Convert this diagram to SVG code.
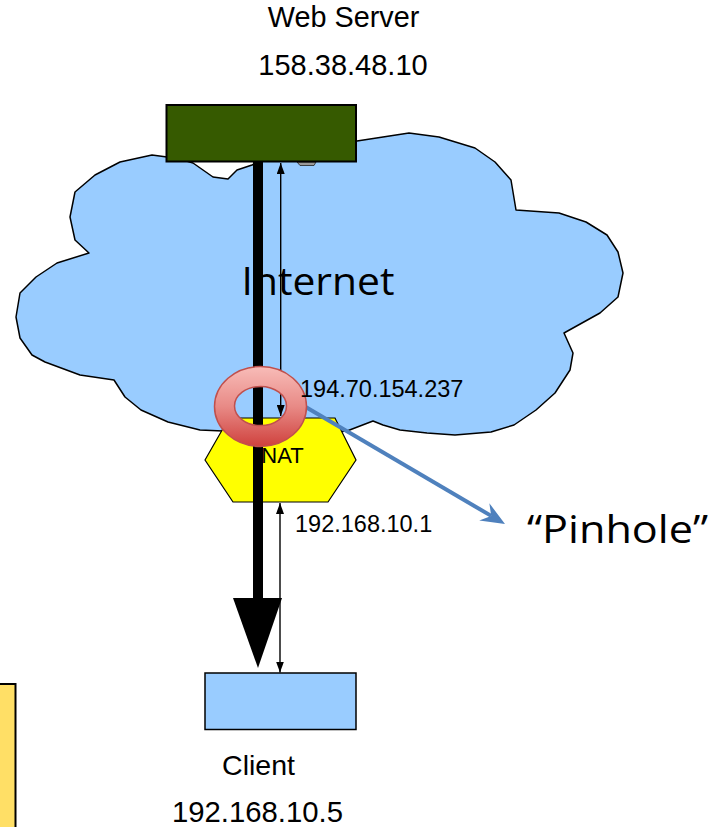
<svg xmlns="http://www.w3.org/2000/svg" width="710" height="827" viewBox="0 0 710 827">
  <style>
    .lbl { font-family: "Liberation Sans", Arial, sans-serif; fill: #000; }
    .big { font-family: "Open Sans", "Liberation Sans", sans-serif; fill: #000; }
    .thin { stroke: #000; stroke-width: 1.4; fill: none; }
  </style>
  <defs>
    <marker id="head" markerUnits="userSpaceOnUse" markerWidth="11" markerHeight="8" refX="11" refY="4" orient="auto-start-reverse">
      <path d="M0,0 L11,4 L0,8 Z" fill="#000"/>
    </marker>
    <marker id="stealth" markerUnits="userSpaceOnUse" markerWidth="24" markerHeight="20" refX="8" refY="10" orient="auto">
      <path d="M0,0 L24,10 L0,20 L8,10 Z" fill="#4f81bd"/>
    </marker>
    <linearGradient id="ringFill" x1="0" y1="0" x2="0" y2="1">
      <stop offset="0" stop-color="#f8bcb8"/>
      <stop offset="0.5" stop-color="#e88a86"/>
      <stop offset="1" stop-color="#cf413d"/>
    </linearGradient>
  </defs>

  <!-- side panel edge -->
  <rect x="-3" y="684" width="18.5" height="150" fill="#ffdf66" stroke="#000" stroke-width="2"/>

  <!-- Internet cloud -->
  <g id="internet">
    <path d="M152,155 L167,157 L180,159 L193,163 L213,177 L228,179 L237,170 L252,165 L262,160 L300,150 L357,141 L409,133 L439,137 L475,148 L495,162 L511,180 L516,210 L559,213 L586,222 L607,235 L618,252 L623,273 L618,297 L600,313 L564,333 L573,353 L570,370 L555,393 L536,410 L514,425 L491,432 L455,435 L427,433 L400,430 L383,425 L373,421 L347,431 L300,436 L240,434 L223,431 L200,430 L168,422 L141,410 L125,397 L114,380 L80,375 L45,362 L32,355 L20,338 L16,317 L20,293 L36,277 L57,263 L89,253 L75,240 L70,217 L75,192 L95,175 L120,162 Z" fill="#99ccff" stroke="#000" stroke-width="1.5" stroke-linejoin="round"/>
    <text class="big" x="241.5" y="295" font-size="39" textLength="153" lengthAdjust="spacingAndGlyphs">Internet</text>
  </g>

  <!-- Web server -->
  <g id="web-server">
    <polygon points="297,162 300,165.5 314,165.5 316,162" fill="#999" stroke="#222" stroke-width="0.8"/>
    <rect x="166.5" y="105" width="189.5" height="56.5" fill="#365a00" stroke="#000" stroke-width="2"/>
    <text class="lbl" x="343.5" y="27" font-size="28.8" text-anchor="middle">Web Server</text>
    <text class="lbl" x="343" y="75" font-size="29" text-anchor="middle">158.38.48.10</text>
  </g>

  <!-- NAT router -->
  <g id="nat">
    <polygon points="205,460 229,418 335,418 356,460 328,502 233,502" fill="#ffff00" stroke="#000" stroke-width="1.2"/>
    <text class="lbl" x="282.5" y="463" font-size="22" text-anchor="middle">NAT</text>
  </g>

  <!-- Client -->
  <g id="client">
    <rect x="205" y="673" width="151" height="56.5" fill="#99ccff" stroke="#000" stroke-width="1.5"/>
    <text class="lbl" x="258.5" y="775" font-size="28.5" text-anchor="middle">Client</text>
    <text class="lbl" x="257.5" y="822" font-size="29.3" text-anchor="middle">192.168.10.5</text>
  </g>

  <!-- Connectors -->
  <g id="connectors">
    <!-- data flow server to client -->
    <line x1="258" y1="161" x2="258" y2="599" stroke="#000" stroke-width="10"/>
    <polygon points="233,598 282,598 258,668" fill="#000"/>
    <!-- outside session: server <-> NAT -->
    <line class="thin" x1="280.7" y1="163" x2="280.7" y2="416" marker-start="url(#head)" marker-end="url(#head)"/>
    <!-- inside session: NAT <-> client -->
    <line class="thin" x1="280" y1="503" x2="280" y2="672.5" marker-start="url(#head)" marker-end="url(#head)"/>
    <!-- pinhole callout -->
    <line x1="304" y1="406" x2="491.2" y2="515.9" stroke="#4f81bd" stroke-width="4" marker-end="url(#stealth)"/>
  </g>

  <!-- Pinhole ring -->
  <g id="pinhole">
    <path d="M214.5,406.5 a46,40 0 1,0 92,0 a46,40 0 1,0 -92,0 Z M234.5,406 a26,19.5 0 1,0 52,0 a26,19.5 0 1,0 -52,0 Z" fill="url(#ringFill)" fill-rule="evenodd" stroke="#c0504d" stroke-width="1.5"/>
    <text class="big" x="527" y="543" font-size="39" textLength="181" lengthAdjust="spacingAndGlyphs">“Pinhole”</text>
  </g>

  <!-- Address labels -->
  <text class="lbl" x="300" y="397" font-size="23.5">194.70.154.237</text>
  <text class="lbl" x="295" y="532" font-size="23.5">192.168.10.1</text>
</svg>
